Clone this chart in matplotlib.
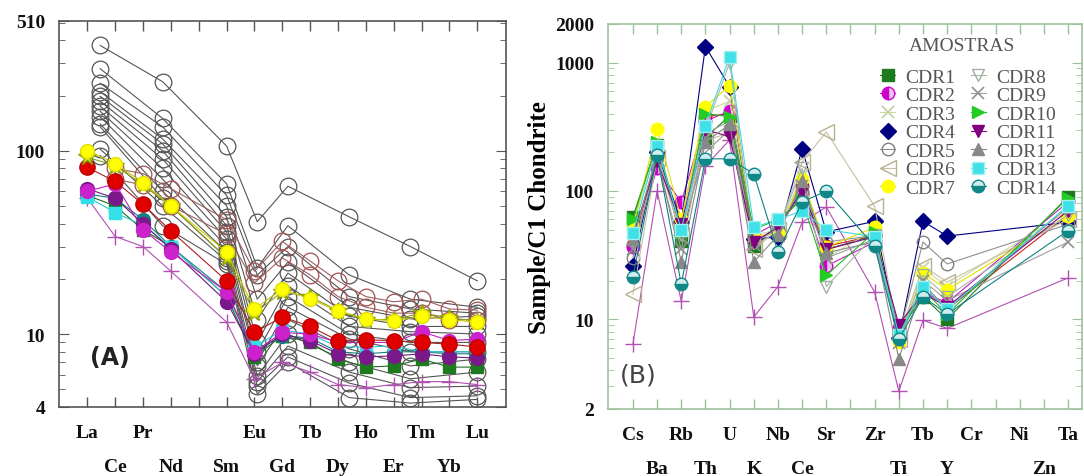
import matplotlib
matplotlib.use("Agg")
import matplotlib.pyplot as plt
from matplotlib.ticker import LogLocator, NullFormatter

plt.rcParams["font.family"] = ["Liberation Serif", "DejaVu Serif"]

# ---------------- panel A : REE ----------------
ree_labels = ["La", "Ce", "Pr", "Nd", "", "Sm", "Eu", "Gd", "Tb", "Dy", "Ho", "Er", "Tm", "Yb", "Lu"]
N = None
yellow_a = [100, 85, 67, 50, N, 28, 13.7, 17.6, 15.5, 13.4, 12.1, 11.8, 12.5, 12, 11.6]
ygreen_a = [92, 83, 65, 50, N, 26, 13, 17, 16, 13.4, 12, 12, 13, 12.3, 11.7]
red_a = [81, 68, 51, 36.5, N, 19.5, 10.2, 12.4, 11, 9.2, 9.3, 9.2, 9.0, 8.8, 8.5]
magenta_a = [60, 66, 37, 28, N, 17, 8, 10.2, 10, 9.0, 9.0, 9.0, 10.3, 9.2, 9.4]
teal_a = [58, 55, 42, 30, N, 17, 8, 9.8, 9.5, 8, 7.8, 8, 8, 7.8, 7.8]
cyan_a = [56, 46, 39, 30, N, 16, 8.5, 10.5, 10, 8.5, 8.5, 8.6, 8, 8, 8]
green_a = [57, 50, 37, 30, N, 16, 7.5, 9.8, 9, 7.3, 6.6, 6.7, 7.3, 6.6, 6.6]
purple_a = [62, 55, 40, 29, N, 15, 7.8, 10, 9.2, 7.8, 7.5, 7.6, 7.8, 7.5, 7.4]
plus_a = [55, 34, 30, 22, N, 11.6, 5.7, 7, 6.2, 5.3, 5.1, 5.3, 5.5, 5.5, 5.3]
brown1_a = [N, 80, 75, 62, N, 42, 22, 32, 25, 19.5, 16, 15, 15.5, 13.7, 13.5]
brown2_a = [N, 70, 65, 50, N, 35, 19, 26, 21, 16, 14, 13, 13, 12, 12]

# open-circle samples plotted on their own element positions
gray_x = [0.46, 2.7, 5.0, 6.1, 7.2, 9.4, 11.6, 14.0]
gray_a = [
    [375, 238, 106, 41, 64, 43.6, 30, 19.5],
    [280, 150, 66, 23, 39, 21, 15.5, 14],
    [233, 135, 57, 21, 30, 16, 13.7, 13],
    [210, 116, 50, 15.5, 24.7, 14, 12.1, 12.5],
    [198, 109, 43.6, 12, 21.5, 12.5, 11, 11],
    [186, 100, 39, 9, 18.3, 11, 10.3, 10],
    [175, 90, 36, 8, 16, 10, 9, 9],
    [164, 80, 33, 7, 14, 9.4, 8, 8],
    [153, 70, 30, 6.7, 12, 8.3, 6.7, 7.3],
    [140, 60, 28, 5.9, 10, 7.0, 5.7, 6.2],
    [135, 55, 26, 5.5, 8.6, 6.2, 5.1, 5.2],
    [102, 50, 25, 5.2, 7.5, 5.4, 4.5, 4.6],
    [94, 39, 24, 4.7, 7.0, 4.5, 4.2, 4.4],
]

# ---------------- panel B : spider ----------------
spider_labels = ["Cs", "Ba", "Rb", "Th", "U", "K", "Nb", "Ce", "Sr", "", "Zr", "Ti",
                 "Tb", "Y", "Cr", "", "Ni", "Zn", "Ta"]
cdr1 = [63, 230, 40.6, 260, 385, 37, 55, 90, 35, N, 45, 8, 15, 10, N, N, N, N, 90]
cdr2 = [36.5, 150, 82, 350, 420, 45, 57, 95, 26, N, 40, 8.5, 16, 13.5, N, N, N, N, 82]
cdr3 = [55, 220, 55, 420, 500, 45, 50, 130, 30, N, 50, 7.5, 25, 18, N, N, N, N, 70]
cdr4 = [26, 200, 57, 1334, 650, 42, 44, 213, 48, N, 58, 7.2, 58, 44.5, N, N, N, N, 57]
cdr5 = [30, 190, 50, 200, 300, 40, 50, 100, 40, N, 45, 7.5, 40, 27, N, N, N, N, 55]
cdr6 = [15.7, 180, 45, 250, 280, 35, 50, 168, 288, N, 76, 7, 26, 19.5, N, N, N, N, 60]
cdr7 = [52, 305, 60, 453, 660, 44, 47, 124, 36.5, N, 52, 6.7, 23, 17, N, N, N, N, 64]
cdr8 = [40, 200, 45, 300, 1000, 40, 50, 150, 18, N, 45, 7, 22, 15, N, N, N, N, 65]
cdr9 = [35, 170, 35, 280, 350, 38, 48, 110, 30, N, 42, 6.5, 20, 14, N, N, N, N, 40]
cdr10 = [60, 240, 48, 400, 380, 50, 60, 85, 22, N, 48, 7.5, 17, 11, N, N, N, N, 88]
cdr11 = [45, 170, 55, 300, 265, 40, 52, 100, 35, N, 44, 9.1, 16, 12.5, N, N, N, N, 70]
cdr12 = [42, 190, 28, 240, 330, 28, 45, 120, 33, N, 40, 4.9, 19, 12, N, N, N, N, 75]
cdr13 = [47, 225, 50, 323, 1113, 52, 60, 70, 50, N, 44, 7.5, 18, 12, N, N, N, N, 77]
cdr14 = [21.3, 190, 18.7, 178, 178, 136, 33.5, 82, 100, N, 37, 7, 15, 11, N, N, N, N, 49]
plus_b = [6.4, 100, 13.8, 157, 250, 10.4, 18, 57, 75, N, 16.3, 2.75, 9.8, 8.5, N, N, N, N, 21]
red_b = [38, 188, 55, 380, 400, 40, 50, 109, 37, N, 45, 7.8, 17.7, 12, N, N, N, N, 65]

BOLD = {"family": "Liberation Serif", "weight": "bold", "size": 14}


def draw(ax, xs, ys, **kw):
    pts = [(x, y) for x, y in zip(xs, ys) if y is not None]
    ax.plot([p[0] for p in pts], [p[1] for p in pts], **kw)


def style_axes(ax, labels, frame_color):
    pos = list(range(len(labels)))
    ax.set_xticks(pos[0::2], labels=labels[0::2])
    ax.set_xticks(pos[1::2], labels=labels[1::2], minor=True)
    ax.tick_params(axis="x", which="both", direction="in", top=True, bottom=True,
                   length=7, width=1, color=frame_color)
    ax.tick_params(axis="x", which="major", pad=12)
    ax.tick_params(axis="x", which="minor", pad=37)
    ax.tick_params(axis="y", which="both", direction="in", left=True, right=True,
                   color=frame_color, pad=10)
    ax.tick_params(axis="y", which="major", length=7)
    ax.tick_params(axis="y", which="minor", length=4)
    ax.yaxis.set_minor_locator(LogLocator(base=10, subs=range(2, 10)))
    ax.yaxis.set_minor_formatter(NullFormatter())
    for sp in ax.spines.values():
        sp.set_color(frame_color)
        sp.set_linewidth(1.2)
    for lbl in ax.get_xticklabels(which="both") + ax.get_yticklabels():
        lbl.set_fontproperties(BOLD)
        lbl.set_color("#111111")


fig = plt.figure(figsize=(10.84, 4.77), dpi=100)
axA = fig.add_axes([0.0544, 0.1447, 0.4124, 0.8092])
axB = fig.add_axes([0.5609, 0.1405, 0.4373, 0.8071])

# panel A
xa = [i for i in range(15)]
for g in gray_a:
    draw(axA, gray_x, g, color="#555555", lw=0.8, marker="o", ms=12,
         mfc="none", mec="#555555", mew=0.9)
for ser in (brown1_a, brown2_a):
    draw(axA, xa, ser, color="#a06060", lw=0.8, marker="o", ms=12,
         mfc="none", mec="#a05050", mew=0.9)
draw(axA, xa, plus_a, color="#b050b0", lw=0.8, marker="+", ms=11, mew=1)
draw(axA, xa, green_a, color="#226b22", lw=0.8, marker="s", ms=9, mfc="#1e7a1e", mec="#1e7a1e")
draw(axA, xa, teal_a, color="#1b7f7f", lw=0.8, marker="o", ms=10, mfc="#118080", mec="#118080")
draw(axA, xa, cyan_a, color="#30c8d0", lw=0.8, marker="s", ms=9, mfc="#33e0e6", mec="#33e0e6")
draw(axA, xa, purple_a, color="#6a1b7a", lw=0.8, marker="o", ms=10, mfc="#7a1a8a", mec="#7a1a8a")
draw(axA, xa, magenta_a, color="#c020c0", lw=0.8, marker="o", ms=10, mfc="#cc22cc", mec="#cc22cc")
draw(axA, xa, red_a, color="#aa2020", lw=0.8, marker="o", ms=11, mfc="#e00000", mec="#c00000")
draw(axA, xa, ygreen_a, color="#8aa020", lw=0.8, marker="*", ms=13, mfc="#d4e600", mec="#8aa000")
draw(axA, xa, yellow_a, color="#c8c800", lw=0.8, marker="o", ms=10, mfc="#ffff00", mec="#e0e000")

axA.set_yscale("log")
axA.set_xlim(-1.02, 15.03)
axA.set_ylim(4, 510)
axA.set_yticks([4, 10, 100, 510], labels=["4", "10", "100", "510"])
style_axes(axA, ree_labels, "#555555")
axA.text(0.07, 0.13, "(A)", transform=axA.transAxes, fontsize=17, fontweight="bold",
         family="DejaVu Sans", color="#222222", ha="left", va="center")

# panel B
xb = [i for i in range(19)]
series_b = [
    ("CDR1", cdr1, dict(color="#1e7a1e", marker="s", mfc="#1e7a1e", mec="#1e7a1e")),
    ("CDR2", cdr2, dict(color="#c020c0", marker="o", mfc="#cc00cc", mec="#cc00cc",
                        fillstyle="left", markerfacecoloralt="#f0c0f0")),
    ("CDR3", cdr3, dict(color="#c8d8a0", marker="x", mec="#c0d0a0", mew=1.2)),
    ("CDR4", cdr4, dict(color="#000080", marker="D", mfc="#000080", mec="#000080", ms=8)),
    ("CDR5", cdr5, dict(color="#909090", marker="o", mfc="none", mec="#808080")),
    ("CDR6", cdr6, dict(color="#c8c0a0", marker="<", mfc="none", mec="#b8b090", ms=11)),
    ("CDR7", cdr7, dict(color="#e0e000", marker="o", mfc="#ffff00", mec="#ffff00")),
    ("CDR8", cdr8, dict(color="#a8b8a8", marker="v", mfc="none", mec="#a0b0a0")),
    ("CDR9", cdr9, dict(color="#a0a0a0", marker="x", mec="#909090", mew=1.2)),
    ("CDR10", cdr10, dict(color="#22bb22", marker=">", mfc="#22cc22", mec="#22cc22")),
    ("CDR11", cdr11, dict(color="#800080", marker="v", mfc="#800080", mec="#800080")),
    ("CDR12", cdr12, dict(color="#888888", marker="^", mfc="#888888", mec="#888888")),
    ("CDR13", cdr13, dict(color="#40d8e0", marker="s", mfc="#40e0e8", mec="#a0f0f0")),
    ("CDR14", cdr14, dict(color="#108080", marker="o", mfc="#118888", mec="#118888",
                          fillstyle="bottom", markerfacecoloralt="#d0eeee")),
]
draw(axB, xb, plus_b, color="#b050b0", lw=0.8, marker="+", ms=11, mew=1)
draw(axB, xb, red_b, color="#cc2020", lw=0.8, marker="o", ms=9, mfc="#e00000", mec="#e00000")
handles = []
for name, vals, kw in series_b:
    kw = dict(kw)
    kw.setdefault("ms", 9)
    draw(axB, xb, vals, lw=0.8, label=name, **kw)
    handles.append(axB.lines[-1])

axB.set_yscale("log")
axB.set_xlim(-1.03, 18.58)
axB.set_ylim(2, 2000)
axB.set_yticks([2, 10, 100, 1000, 2000], labels=["2", "10", "100", "1000", "2000"])
style_axes(axB, spider_labels, "#9cc29c")
axB.set_ylabel("Sample/C1 Chondrite", fontsize=18, fontweight="bold",
               family="Liberation Serif", labelpad=3)
axB.text(0.025, 0.09, "(B)", transform=axB.transAxes, fontsize=18,
         family="DejaVu Sans", color="#444444", ha="left", va="center")

axB.text(0.747, 0.943, "AMOSTRAS", transform=axB.transAxes, fontsize=14,
         color="#555555", ha="center", va="center")
leg = axB.legend(handles=handles, ncol=2, loc="upper left", bbox_to_anchor=(0.557, 0.906),
                 frameon=False, borderaxespad=0, handlelength=0.8,
                 handletextpad=0.5, columnspacing=0.8, labelspacing=0.05,
                 prop={"family": "Liberation Serif", "size": 14})
for t in leg.get_texts():
    t.set_color("#555555")

fig.savefig("out.png", dpi=100)
